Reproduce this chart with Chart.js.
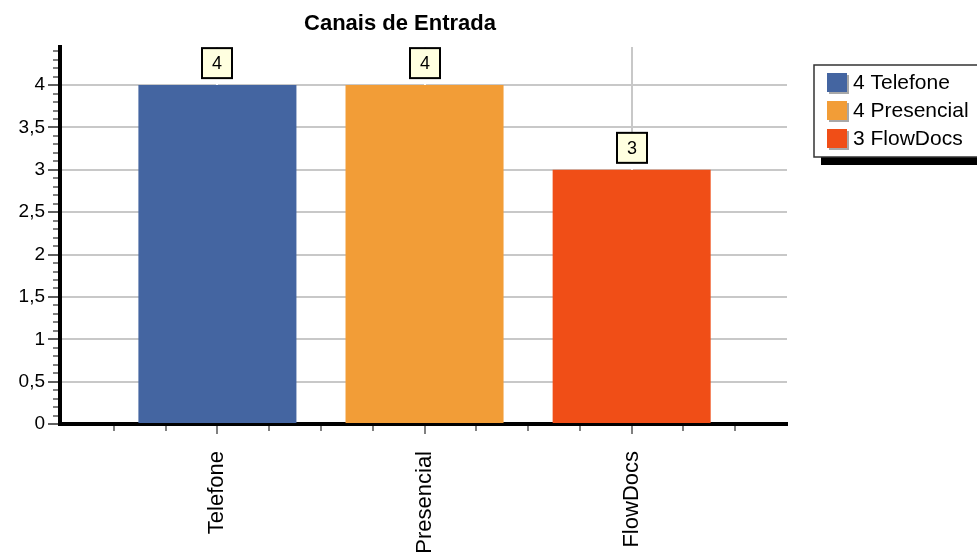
<!DOCTYPE html>
<html><head><meta charset="utf-8">
<script src="https://cdn.jsdelivr.net/npm/chart.js@4"></script>
<style>html,body{margin:0;padding:0;background:#fff;} #wrap{width:977px;height:557px;position:relative;}</style>
</head><body><div id="wrap"><canvas id="c"></canvas></div>
<script>
const chartTitle = 'Canais de Entrada';
const categories = ['Telefone', 'Presencial', 'FlowDocs'];
const values = [4, 4, 3];
const barColors = ['#4465a1', '#f29d37', '#f04e17'];
const yTickLabels = ['0', '0,5', '1', '1,5', '2', '2,5', '3', '3,5', '4'];

const FONT = "'Liberation Sans', Arial, sans-serif";
const positions = categories.map((c, i) => i + 1);
const points = values.map((v, i) => ({x: positions[i], y: v}));

const titlePlugin = {
  id: 'customTitle',
  afterDraw(chart, args, opts) {
    const ctx = chart.ctx;
    ctx.save();
    ctx.font = 'bold 22px ' + FONT;
    ctx.fillStyle = '#000';
    ctx.textAlign = 'center';
    ctx.textBaseline = 'middle';
    ctx.fillText(chartTitle, opts.x, opts.y);
    ctx.restore();
  }
};

const minorTicks = {
  id: 'minorTicks',
  afterDraw(chart) {
    const ctx = chart.ctx;
    const xs = chart.scales.x, ys = chart.scales.y;
    ctx.save();
    ctx.strokeStyle = '#808080';
    ctx.lineWidth = 2;
    const yn = Math.floor(ys.max * 10 + 1e-6);
    for (let k = 1; k <= yn; k++) {
      if (k % 5 === 0) continue;
      const py = Math.round(ys.getPixelForValue(k / 10));
      ctx.beginPath();
      ctx.moveTo(ys.right - 7, py);
      ctx.lineTo(ys.right - 2, py);
      ctx.stroke();
    }
    const x0 = Math.ceil(xs.min * 4), x1 = Math.floor(xs.max * 4);
    for (let k = x0; k <= x1; k++) {
      const v = k / 4;
      if (k % 4 === 0 || v < xs.min + 0.1 || v > xs.max - 0.1) continue;
      const px = Math.round(xs.getPixelForValue(v));
      ctx.beginPath();
      ctx.moveTo(px, xs.top + 2);
      ctx.lineTo(px, xs.top + 7);
      ctx.stroke();
    }
    ctx.restore();
  }
};

const valueLabels = {
  id: 'valueLabels',
  afterDatasetsDraw(chart) {
    const ctx = chart.ctx;
    const meta = chart.getDatasetMeta(0);
    ctx.save();
    meta.data.forEach((bar, i) => {
      const w = 30, h = 30, gap = 7;
      const cx = Math.round(bar.x);
      const bottom = bar.y - gap;
      ctx.strokeStyle = '#ffffff';
      ctx.lineWidth = 2;
      ctx.beginPath();
      ctx.moveTo(cx, bottom);
      ctx.lineTo(cx, bar.y);
      ctx.stroke();
      ctx.fillStyle = '#ffffe0';
      ctx.fillRect(cx - w / 2, bottom - h, w, h);
      ctx.strokeStyle = '#000';
      ctx.lineWidth = 2;
      ctx.strokeRect(cx - w / 2, bottom - h, w, h);
      ctx.fillStyle = '#000';
      ctx.font = '18px ' + FONT;
      ctx.textAlign = 'center';
      ctx.textBaseline = 'middle';
      ctx.fillText(String(values[i]), cx, bottom - h / 2 + 1);
    });
    ctx.restore();
  }
};

const legendBox = {
  id: 'legendBox',
  afterDraw(chart, args, o) {
    const ctx = chart.ctx;
    ctx.save();
    ctx.fillStyle = '#000';
    ctx.fillRect(o.left + 7, o.top + 8, o.width, o.height);
    ctx.fillStyle = '#fff';
    ctx.fillRect(o.left, o.top, o.width, o.height);
    ctx.strokeStyle = '#333';
    ctx.lineWidth = 1.5;
    ctx.strokeRect(o.left, o.top, o.width, o.height);
    categories.forEach((c, i) => {
      const sy = o.top + 8 + i * o.row;
      ctx.fillStyle = '#a8a8a8';
      ctx.fillRect(o.left + 15, sy + 2, 20, 19);
      ctx.fillStyle = barColors[i];
      ctx.fillRect(o.left + 13, sy, 20, 19);
      ctx.fillStyle = '#000';
      ctx.font = '21px ' + FONT;
      ctx.textAlign = 'left';
      ctx.textBaseline = 'middle';
      ctx.fillText(values[i] + ' ' + c, o.left + 39, sy + 10);
    });
    ctx.restore();
  }
};

new Chart(document.getElementById('c'), {
  type: 'bar',
  data: {
    datasets: [{
      data: points,
      backgroundColor: barColors,
      borderWidth: 0,
      categoryPercentage: 1,
      barPercentage: 0.763
    }]
  },
  options: {
    responsive: true,
    maintainAspectRatio: false,
    animation: false,
    layout: {padding: {top: 47, right: 190, bottom: 0, left: 0}},
    plugins: {
      legend: {display: false},
      title: {display: false},
      tooltip: {enabled: false},
      customTitle: {x: 400, y: 24},
      legendBox: {left: 814, top: 65, width: 175, height: 92, row: 28}
    },
    scales: {
      x: {
        type: 'linear',
        position: 'bottom',
        offset: false,
        min: 0.24,
        max: 3.75,
        border: {display: true, color: '#000', width: 4},
        grid: {offset: false, color: '#c8c8c8', lineWidth: 2, tickLength: 10, tickColor: '#808080', tickWidth: 2},
        ticks: {
          stepSize: 1, includeBounds: false, autoSkip: false,
          maxRotation: 90, minRotation: 90, padding: 17,
          color: '#000', font: {family: FONT, size: 22},
          callback: v => { const i = positions.indexOf(v); return i >= 0 ? categories[i] : ''; }
        },
        afterFit: s => { s.height = 133; }
      },
      y: {
        min: 0,
        max: 4.45,
        border: {display: true, color: '#000', width: 4},
        grid: {
          color: c => (c.tick && c.tick.value === 0) ? 'rgba(0,0,0,0)' : '#c8c8c8',
          lineWidth: 2, tickLength: 12, tickColor: '#606060', tickWidth: 2
        },
        ticks: {
          stepSize: 0.5, includeBounds: false, padding: 3,
          color: '#000', font: {family: FONT, size: 19},
          callback: v => yTickLabels[Math.round(v * 2)]
        },
        afterFit: s => { s.width = 60; }
      }
    }
  },
  plugins: [titlePlugin, minorTicks, valueLabels, legendBox]
});
</script>
</body></html>
